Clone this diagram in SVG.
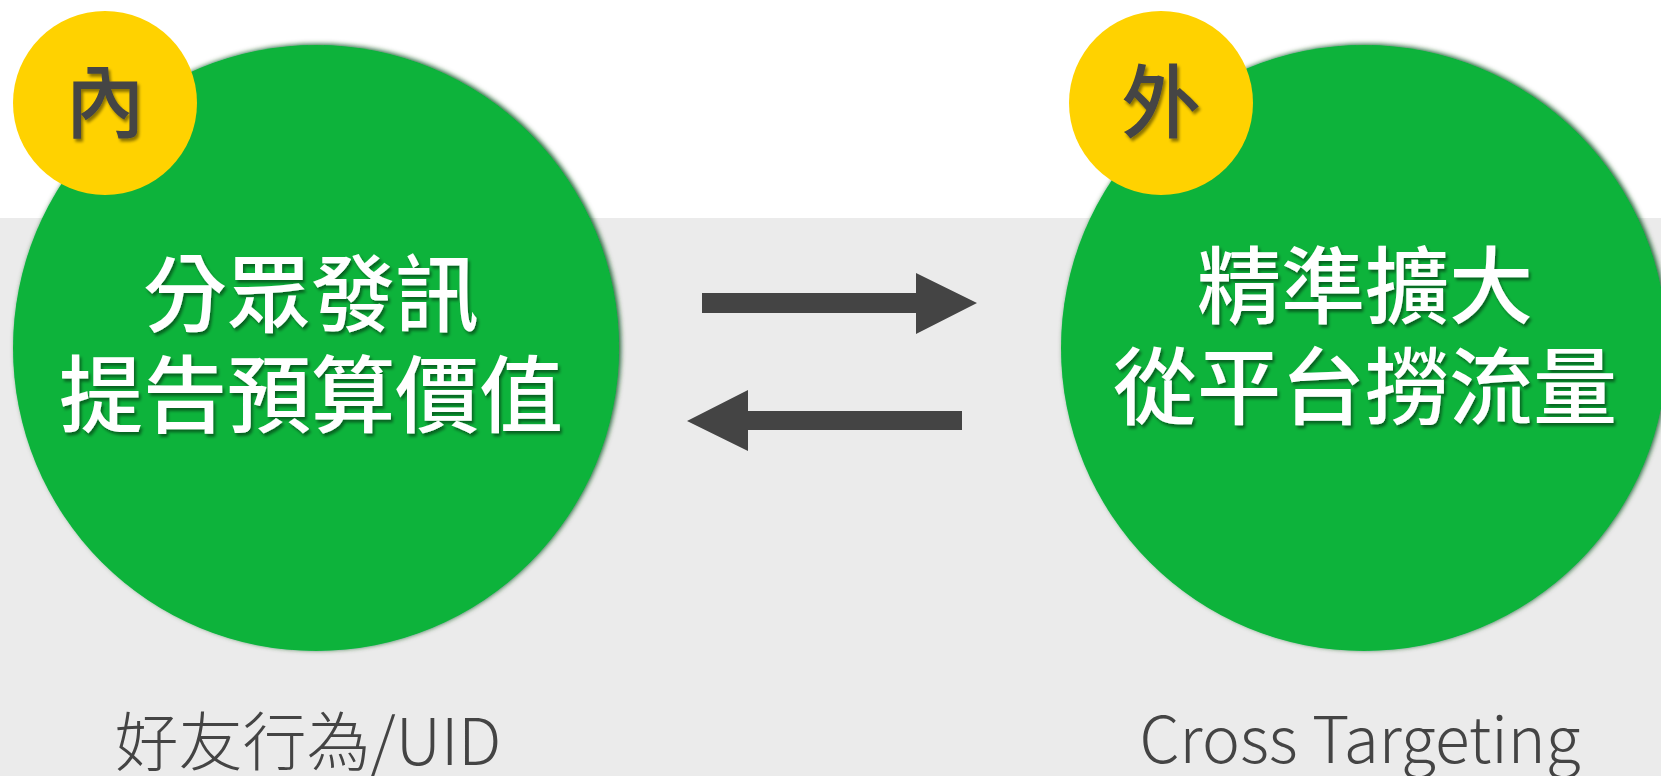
<svg xmlns="http://www.w3.org/2000/svg" width="1661" height="776" viewBox="0 0 1661 776">
<defs>
<filter id="cshadow" x="-10%" y="-10%" width="120%" height="120%">
<feDropShadow dx="2" dy="-1" stdDeviation="2.5" flood-color="#004d14" flood-opacity="0.85"/>
</filter>
<filter id="tshadow" x="-10%" y="-10%" width="120%" height="130%">
<feDropShadow dx="2" dy="3" stdDeviation="1.5" flood-color="#000" flood-opacity="0.45"/>
</filter>
</defs>
<style>
.big{fill:#2b2b2b;}
.green{fill:#08b33b;}
.yellow{fill:#ffd200;}
.main{font-family:"Noto Sans CJK TC","Noto Sans CJK SC",sans-serif;font-size:84px;font-weight:500;fill:#ffffff;text-anchor:middle;filter:url(#tshadow);}
.badge{font-family:"Noto Sans CJK TC","Noto Sans CJK SC",sans-serif;font-size:80px;font-weight:500;fill:#444444;text-anchor:middle;filter:url(#tshadow);}
.label{font-family:"Noto Sans CJK TC","Noto Sans CJK SC",sans-serif;font-size:64px;font-weight:300;fill:#444444;text-anchor:middle;}
.arrow{fill:#444444;}
</style>
<rect x="0" y="0" width="1661" height="776" fill="#ffffff"/>
<rect x="0" y="218" width="1661" height="558" fill="#ebebeb"/>
<g id="node-inner">
<circle class="green" cx="316" cy="348" r="303" filter="url(#cshadow)"/>
<text class="main" x="311" y="325">分眾發訊</text>
<text class="main" x="311" y="426">提告預算價值</text>
</g>
<g id="badge-inner">
<circle class="yellow" cx="105" cy="103" r="92"/>
<text class="badge" x="105" y="131">內</text>
</g>
<g id="node-outer">
<circle class="green" cx="1364" cy="348" r="303" filter="url(#cshadow)"/>
<text class="main" x="1365" y="317">精準擴大</text>
<text class="main" x="1365" y="418">從平台撈流量</text>
</g>
<g id="badge-outer">
<circle class="yellow" cx="1161" cy="103" r="92"/>
<text class="badge" x="1161" y="131">外</text>
</g>
<g id="connectors">
<polygon class="arrow" points="702,293 916,293 916,273 977,303 916,334 916,313 702,313"/>
<polygon class="arrow" points="962,411 748,411 748,390 687,421 748,451 748,430 962,430"/>
</g>
<g id="label-inner">
<text class="label" x="308" y="765">好友行為/UID</text>
</g>
<g id="label-outer">
<text class="label" x="1360" y="763">Cross Targeting</text>
</g>
</svg>
